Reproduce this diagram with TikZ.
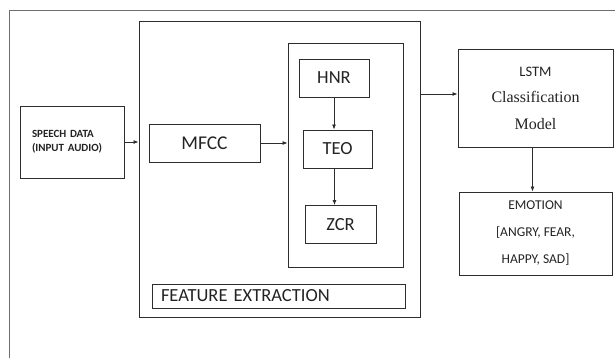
\documentclass[tikz,border=0pt]{standalone}
\usepackage{fontspec}
\setsansfont{Carlito}
\newfontfamily\tnrfont{Liberation Serif}
\usetikzlibrary{arrows.meta, positioning}
\definecolor{dgEdge}{RGB}{45,45,45}
\definecolor{dgFrame}{RGB}{110,110,110}
\definecolor{dgText}{RGB}{35,35,35}

\begin{document}
\begin{tikzpicture}[
    x=1pt, y=-1pt, font=\sffamily, text=dgText,
    blk/.style={draw=dgEdge, line width=0.9pt, inner sep=0pt, anchor=center},
    flow/.style={draw=dgEdge, line width=0.8pt, -{Latex[length=5pt,width=4pt]}}
]
\useasboundingbox (0,0) rectangle (615,358);
% page frame, open to the right and at the bottom
\draw[dgFrame, line width=0.8pt] (615,10) -- (9,10) -- (9,358);

\node[blk, minimum width=104pt, minimum height=72pt, text width=80pt, align=left,
      font=\sffamily\bfseries\fontsize{11}{14}\selectfont] (speech) at (72,142)
      {SPEECH DATA\\(INPUT AUDIO)};

% feature extraction block
\node[blk, minimum width=281pt, minimum height=296pt] (feat) at (279.5,169) {};
\node[blk, minimum width=115pt, minimum height=224pt] (inner) at (345.5,155) {};
\node[blk, minimum width=111pt, minimum height=38pt,
      font=\sffamily\fontsize{19.5}{20}\selectfont] (mfcc) at (204.5,143) {MFCC};
\foreach \nm/\lbl/\cx/\cy/\w in {hnr/HNR/334/78/70, teo/TEO/337.5/149/69, zcr/ZCR/340.5/224.5/71} {
   \node[blk, minimum width=\w pt, minimum height=38pt,
         font=\sffamily\fontsize{18.5}{20}\selectfont] (\nm) at (\cx,\cy) {\lbl};
}
\node[blk, minimum width=253pt, minimum height=24pt, inner xsep=9pt, text width=235pt,
      align=left, font=\sffamily\fontsize{18.5}{20}\selectfont] (felbl) at (278.5,296)
      {FEATURE EXTRACTION};

% classifier and output
\node[blk, minimum width=155pt, minimum height=98pt, align=center,
      font=\tnrfont\fontsize{16}{26.5}\selectfont] (lstm) at (535.5,98)
      {{\sffamily\fontsize{14.5}{26.5}\selectfont LSTM}\\Classification\\Model};
\node[blk, minimum width=153pt, minimum height=83pt, align=center,
      font=\sffamily\fontsize{13.5}{27}\selectfont] (emo) at (535.5,233.5)
      {EMOTION\\{[}ANGRY, FEAR,\\HAPPY, SAD{]}};

\draw[flow] (speech.east) -- (speech.east -| feat.west);
\draw[flow] (mfcc.east) -- (mfcc.east -| inner.west);
\draw[flow] (hnr.south) -- (hnr.south |- teo.north);
\draw[flow] ([xshift=-3pt]teo.south) -- ([xshift=-3pt]teo.south |- zcr.north);
\draw[flow] ([yshift=4pt]lstm.west -| feat.east) -- ([yshift=4pt]lstm.west);
\draw[flow] ([xshift=-3pt]lstm.south) -- ([xshift=-3pt]lstm.south |- emo.north);
\end{tikzpicture}
\end{document}
